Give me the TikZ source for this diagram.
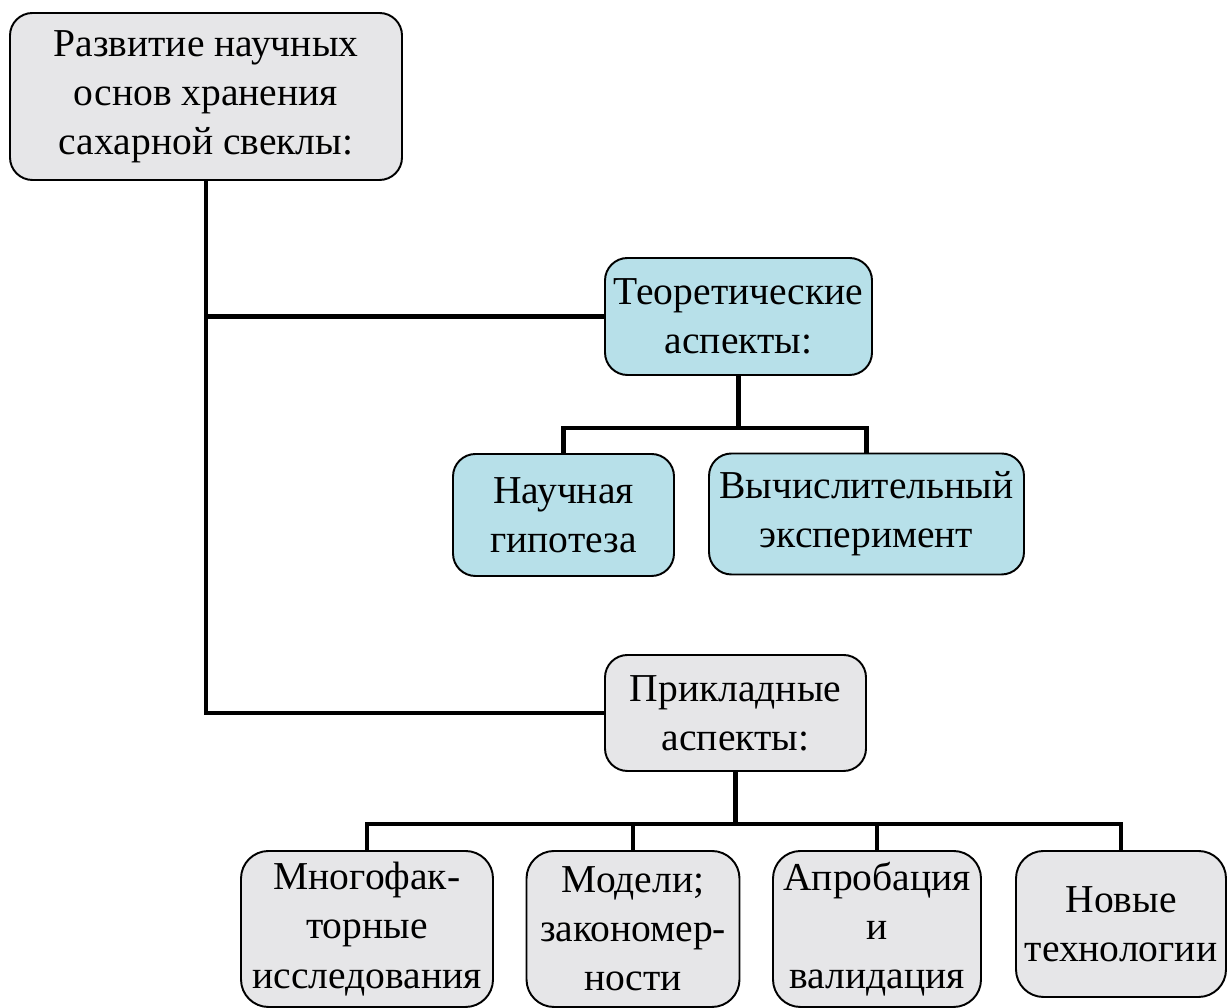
\documentclass[tikz,border=0pt]{standalone}
\usepackage{fontspec}
\setmainfont{Liberation Serif}
\usetikzlibrary{calc}

\definecolor{marble}{HTML}{E6E6E8}
\definecolor{aqua}{HTML}{B7E0E9}

\begin{document}
\begin{tikzpicture}[scale=1.0, line width=2.3pt,
  box/.style={draw, line width=1.1pt, rounded corners=0.45cm, align=center,
    inner sep=0pt, font=\rmfamily\fontsize{22.5}{28}\selectfont},
  marblebox/.style={box, fill=marble},
  aquabox/.style={box, fill=aqua},
  leafbox/.style={marblebox, rounded corners=0.55cm, minimum height=3.12cm}]
  \useasboundingbox (0,0) rectangle (24.54,20.16);

  \node[marblebox, minimum width=7.84cm, minimum height=3.34cm] (root) at (4.12,18.23)
    {Развитие научных\\основ хранения\\сахарной свеклы:};
  \node[aquabox, minimum width=5.34cm, minimum height=2.34cm] (teor) at (14.77,13.83)
    {Теоретические\\аспекты:};
  \node[aquabox, minimum width=4.42cm, minimum height=2.44cm] (hyp) at (11.27,9.86)
    {Научная\\гипотеза};
  \node[aquabox, minimum width=6.30cm, minimum height=2.42cm] (comp) at (17.33,9.88)
    {Вычислительный\\эксперимент};
  \node[marblebox, minimum width=5.22cm, minimum height=2.32cm] (appl) at (14.71,5.90)
    {Прикладные\\аспекты:};

  \node[leafbox, minimum width=5.04cm] (multi) at (7.34,1.58)
    {Многофак-\\торные\\исследования};
  \node[leafbox, minimum width=4.26cm] (model) at (12.66,1.58)
    {Модели;\\закономер-\\ности};
  \node[leafbox, minimum width=4.16cm] (aprob) at (17.54,1.58)
    {Апробация\\и\\валидация};
  \node[leafbox, minimum width=4.20cm, minimum height=2.92cm] (new) at (22.42,1.68)
    {Новые\\технологии};

  % ствол от корня
  \coordinate (trunk) at (root.south |- appl.west);
  \draw (root.south) -- (trunk) -- (appl.west);
  \draw (root.south |- teor.west) -- (teor.west);

  \coordinate (tbus) at ($(teor.south)+(0,-1.04)$);
  \draw (teor.south) -- (tbus);
  \draw (hyp.north) |- (tbus) -| (comp.north);

  \coordinate (abus) at ($(appl.south)+(0,-1.05)$);
  \draw (appl.south) -- (abus);
  \draw (multi.north) |- (abus) -| (new.north);
  \draw (model.north) -- (model.north |- abus);
  \draw (aprob.north) -- (aprob.north |- abus);
\end{tikzpicture}
\end{document}
